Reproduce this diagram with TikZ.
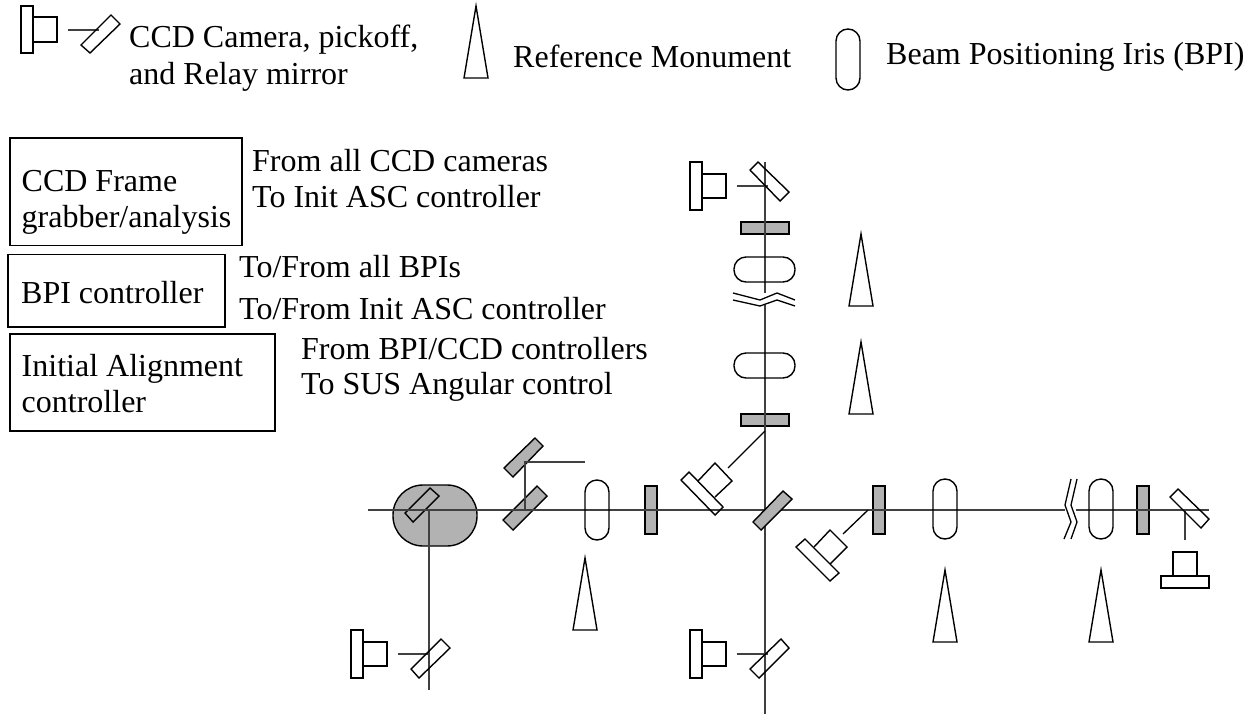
\documentclass[tikz,border=0pt]{standalone}
\usepackage{fontspec}
\setmainfont{Liberation Serif}
\definecolor{optgray}{gray}{0.7}
\definecolor{beamcol}{gray}{0.25}
\tikzset{
  optic/.style={draw=black,line width=1.4pt,line join=miter},
  grayoptic/.style={optic,fill=optgray},
  beam/.style={draw=beamcol,line width=1.7pt},
  thinbeam/.style={draw=black,line width=1.3pt},
  txt/.style={anchor=base west,inner sep=0pt,font=\fontsize{32}{36}\selectfont,text=black},
  box/.style={draw=black,line width=1.2pt}
}
\begin{document}
\begin{tikzpicture}[x=1pt,y=-1pt]
\useasboundingbox (0,0) rectangle (1255,715);
% legend
\draw[optic] (21,6) rectangle (33,53) (33,17) rectangle (57,42);
\draw[beam] (68,30) -- (99,30);
\draw[optic] (111,15) -- (120,24) -- (90,53) -- (81,45) -- cycle;
\draw[optic] (476,6) -- (488,78) -- (464,78) -- cycle;
\draw[optic,rounded corners=12pt] (836,29) rectangle (860,90);
\node[txt] (l1) at (129,47) {CCD Camera, pickoff,};
\node[txt] (l2) at (129,84) {and Relay mirror};
\node[txt] (l3) at (513,67) {Reference Monument};
\node[txt] (l4) at (886,64) {Beam Positioning Iris (BPI)};
% boxes
\draw[box] (10,138) rectangle (242,245.5);
\draw[box] (8,254.5) rectangle (225,327);
\draw[box] (10,334) rectangle (275,431);
\node[txt] (b1a) at (21.5,191) {CCD Frame};
\node[txt] (b1b) at (21.5,227) {grabber/analysis};
\node[txt] (b2a) at (21,303) {BPI controller};
\node[txt] (b3a) at (21.5,376) {Initial Alignment};
\node[txt] (b3b) at (21.5,412) {controller};
\node[txt] (t1a) at (252,171) {From all CCD cameras};
\node[txt] (t1b) at (252,207) {To Init ASC controller};
\node[txt] (t2a) at (239,277) {To/From all BPIs};
\node[txt] (t2b) at (239,319) {To/From Init ASC controller};
\node[txt] (t3a) at (301,359) {From BPI/CCD controllers};
\node[txt] (t3b) at (301,394) {To SUS Angular control};
% gray parts below beams
\draw[grayoptic,rounded corners=30pt] (393,485) rectangle (477,546);
\draw[optic] (430,488) -- (439,496) -- (413,522) -- (405,513) -- cycle;
\draw[grayoptic] (535,438) -- (543,446) -- (513,477) -- (504,468) -- cycle;
\draw[grayoptic] (537,486) -- (547,496) -- (513,530) -- (503,520) -- cycle;
\draw[grayoptic] (645,486) rectangle (657,534);
\draw[grayoptic] (873,486) rectangle (885,534);
\draw[grayoptic] (1137,486) rectangle (1149,534);
\draw[grayoptic] (741,222) rectangle (789,234);
\draw[grayoptic] (741,414) rectangle (789,426);
% beams
\coordinate (hstart) at (368,510);
\coordinate (hbrk1) at (1065,510);
\coordinate (hbrk2) at (1076,510);
\coordinate (hend) at (1209,510);
\coordinate (vtop) at (765,162);
\coordinate (vbrk1) at (765,293);
\coordinate (vbrk2) at (765,305);
\coordinate (vend) at (765,714);
\draw[beam] (hstart) -- (hbrk1) (hbrk2) -- (hend);
\draw[beam] (vtop) -- (vbrk1) (vbrk2) -- (vend);
\draw[beam] (429,510) -- (429,690);
\draw[beam] (585,462) -- (525,462) -- (525,510);
\draw[beam] (1185,510) -- (1185,540);
% centre mirror over beams
\draw[grayoptic] (783,491) -- (792,499) -- (761,530) -- (753,522) -- cycle;
% irises
\foreach \xa/\ya in {585/480,933/479,1089/479}
  \draw[optic,rounded corners=12pt] (\xa,\ya) rectangle ++(24,60);
\foreach \ya in {257,353}
  \draw[optic,rounded corners=12pt] (734,\ya) rectangle ++(61,25);
% monuments
\foreach \xa/\ya in {861/234,861/342,585/558,945/570,1101/570}
  \draw[optic] (\xa,\ya) -- ++(12,72) -- ++(-24,0) -- cycle;
% break marks
\draw[thinbeam] (1071,479) -- (1065,505) -- (1071,522) -- (1064,539);
\draw[thinbeam] (1077,479) -- (1071,505) -- (1077,522) -- (1071,539);
\draw[thinbeam] (733,293) -- (760,300) -- (777,293) -- (795,300);
\draw[thinbeam] (733,300) -- (760,306) -- (777,300) -- (795,306);
% cameras (straight)
\foreach \xa/\ya in {690/162,351/630,690/630}{
  \draw[optic] (\xa,\ya) rectangle ++(12,48);
  \draw[optic] (\xa+12,\ya+12) rectangle ++(24,24);
  \draw[beam] (\xa+47,\ya+24) -- ++(31,0);
}
\draw[optic] (1161,576) rectangle (1209,588) (1173,552) rectangle (1197,576);
% white mirrors
\draw[optic] (758,162) -- (789,192) -- (780,201) -- (750,170) -- cycle;
\draw[optic] (441,639) -- (450,648) -- (419,678) -- (411,669) -- cycle;
\draw[optic] (781,639) -- (789,648) -- (759,678) -- (750,669) -- cycle;
\draw[optic] (1178,489) -- (1209,519) -- (1201,528) -- (1170,497) -- cycle;
% angled cameras
\draw[optic] (689,472) -- (723,507) -- (715,515) -- (681,480) -- cycle;
\draw[optic] (698,481) -- (715,463) -- (732,481) -- (715,497);
\draw[thinbeam] (728,468) -- (765,431);
\draw[optic] (805,539) -- (839,573) -- (830,581) -- (796,547) -- cycle;
\draw[optic] (814,547) -- (830,530) -- (847,547) -- (830,564);
\draw[thinbeam] (843,534) -- (868,510);
\end{tikzpicture}
\end{document}
